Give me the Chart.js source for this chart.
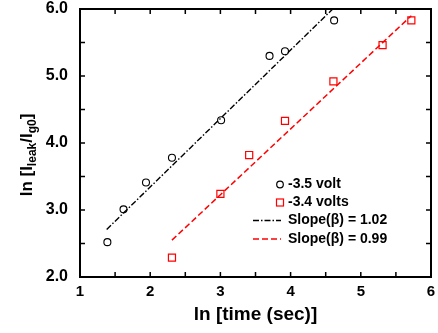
<!DOCTYPE html>
<html>
<head>
<meta charset="utf-8">
<script src="https://cdn.jsdelivr.net/npm/chart.js@4/dist/chart.umd.min.js"></script>
<style>
  html, body { margin: 0; padding: 0; background: #fff; }
  #wrap { width: 438px; height: 333px; }
</style>
</head>
<body>
<div id="wrap"><canvas id="plot"></canvas></div>
<script>
// measured points, ln(time) vs ln(Ileak/Ig0)
const lnTime35 = [1.39, 1.62, 1.94, 2.31, 3.01, 3.70, 3.92, 4.62];
const lnLeak35 = [2.52, 3.01, 3.41, 3.78, 4.34, 5.30, 5.37, 5.83];
const lnTime34 = [2.31, 3.00, 3.41, 3.92, 4.61, 5.31, 5.72];
const lnLeak34 = [2.29, 3.24, 3.82, 4.33, 4.92, 5.46, 5.83];

// linear fits (end points of the drawn segments)
const fitX35 = [1.38, 4.60];
const fitY35 = [2.71, 6.00];
const fitX34 = [2.31, 5.72];
const fitY34 = [2.55, 5.90];

const xTicks = [1, 2, 3, 4, 5, 6];
const yTicks = [2, 3, 4, 5, 6];

const legendItems = [
  { kind: 'circle', color: '#000', text: '-3.5 volt' },
  { kind: 'rect', color: '#ff0000', text: '-3.4 volts' },
  { kind: 'line', color: '#000', dash: [6, 2, 1.5, 2], text: 'Slope(\u03b2) = 1.02' },
  { kind: 'line', color: '#ff0000', dash: [6, 3], text: 'Slope(\u03b2) = 0.99' }
];

const FONT = "'Liberation Sans', Arial, Helvetica, sans-serif";

function pairs(xs, ys) {
  return xs.map((x, i) => ({ x: x, y: ys[i] }));
}

// plot box and inward tick marks on all four sides
const boxPlugin = {
  id: 'box',
  beforeDatasetsDraw(chart) {
    const c = chart.ctx;
    const a = chart.chartArea;
    const xs = chart.scales.x;
    const ys = chart.scales.y;
    c.save();
    c.setLineDash([]);
    c.strokeStyle = '#000';
    c.lineWidth = 1.5;
    c.beginPath();
    for (let v = 1.5; v < 6; v += 0.5) {
      const px = xs.getPixelForValue(v);
      c.moveTo(px, a.bottom); c.lineTo(px, a.bottom - 5);
      c.moveTo(px, a.top); c.lineTo(px, a.top + 5);
    }
    for (let v = 2.5; v < 6; v += 0.5) {
      const py = ys.getPixelForValue(v);
      c.moveTo(a.left, py); c.lineTo(a.left + 5, py);
      c.moveTo(a.right, py); c.lineTo(a.right - 5, py);
    }
    c.stroke();
    c.lineWidth = 2;
    c.strokeRect(a.left, a.top, a.right - a.left, a.bottom - a.top);
    c.restore();
  }
};

// axis titles and legend
const labelsPlugin = {
  id: 'labels',
  afterDraw(chart) {
    const c = chart.ctx;
    const a = chart.chartArea;
    c.save();
    c.fillStyle = '#000';

    c.font = 'bold 19px ' + FONT;
    c.textAlign = 'center';
    c.textBaseline = 'middle';
    c.fillText('ln [time (sec)]', (a.left + a.right) / 2, 315);

    // y title with subscripts
    const parts = [
      { t: 'ln [I', sub: false },
      { t: 'leak', sub: true },
      { t: '/I', sub: false },
      { t: 'g0', sub: true },
      { t: ']', sub: false }
    ];
    let total = 0;
    parts.forEach(p => {
      c.font = 'bold ' + (p.sub ? 12 : 17) + 'px ' + FONT;
      p.w = c.measureText(p.t).width;
      total += p.w;
    });
    c.translate(32, 155);
    c.rotate(-Math.PI / 2);
    c.textAlign = 'left';
    c.textBaseline = 'alphabetic';
    let cx = -total / 2;
    parts.forEach(p => {
      c.font = 'bold ' + (p.sub ? 12 : 17) + 'px ' + FONT;
      c.fillText(p.t, cx, p.sub ? 4 : 0);
      cx += p.w;
    });
    c.setTransform(1, 0, 0, 1, 0, 0);

    c.font = 'bold 14px ' + FONT;
    c.textBaseline = 'middle';
    const rowY = [184.5, 202.5, 220.5, 239];
    legendItems.forEach((it, i) => {
      const y = rowY[i];
      c.strokeStyle = it.color;
      c.setLineDash([]);
      if (it.kind === 'circle') {
        c.lineWidth = 1.2;
        c.beginPath();
        c.arc(280, y, 3.3, 0, Math.PI * 2);
        c.stroke();
      } else if (it.kind === 'rect') {
        c.lineWidth = 1.2;
        c.strokeRect(276.5, y - 3.5, 7, 7);
      } else {
        c.lineWidth = 1.5;
        c.setLineDash(it.dash);
        c.beginPath();
        c.moveTo(253, y); c.lineTo(281, y);
        c.stroke();
        c.setLineDash([]);
      }
      c.fillStyle = '#000';
      c.fillText(it.text, 288, y);
    });
    c.restore();
  }
};

const chartCtx = document.getElementById('plot').getContext('2d');
new Chart(chartCtx, {
  type: 'scatter',
  data: {
    datasets: [
      {
        label: 'fit -3.5',
        data: pairs(fitX35, fitY35),
        showLine: true,
        borderColor: '#000',
        borderWidth: 1.4,
        borderDash: [6, 2, 1.5, 2],
        pointRadius: 0
      },
      {
        label: 'fit -3.4',
        data: pairs(fitX34, fitY34),
        showLine: true,
        borderColor: '#ff0000',
        borderWidth: 1.5,
        borderDash: [6, 3],
        pointRadius: 0
      },
      {
        label: '-3.5 volt',
        data: pairs(lnTime35, lnLeak35),
        pointStyle: 'circle',
        pointRadius: 3.5,
        borderColor: '#000',
        backgroundColor: 'rgba(0,0,0,0)',
        borderWidth: 1.1
      },
      {
        label: '-3.4 volts',
        data: pairs(lnTime34, lnLeak34),
        pointStyle: 'rect',
        pointRadius: 5,
        borderColor: '#ff0000',
        backgroundColor: 'rgba(0,0,0,0)',
        borderWidth: 1.2
      }
    ]
  },
  options: {
    responsive: true,
    maintainAspectRatio: false,
    animation: false,
    layout: { padding: { top: 9, right: 7, left: 0, bottom: 0 } },
    plugins: {
      legend: { display: false },
      tooltip: { enabled: false }
    },
    scales: {
      x: {
        type: 'linear',
        position: 'bottom',
        min: 1,
        max: 6,
        afterFit(scale) {
          scale.height = 56;
          scale.paddingLeft = 0;
          scale.paddingRight = 0;
        },
        afterBuildTicks(scale) { scale.ticks = xTicks.map(v => ({ value: v })); },
        grid: { display: false, drawTicks: false },
        border: { display: false },
        ticks: {
          padding: 6,
          color: '#000',
          font: { family: FONT, size: 15, weight: 'bold' },
          callback: v => String(v)
        }
      },
      y: {
        type: 'linear',
        position: 'left',
        min: 2,
        max: 6,
        afterFit(scale) {
          scale.width = 80;
          scale.paddingTop = 0;
          scale.paddingBottom = 0;
        },
        afterBuildTicks(scale) { scale.ticks = yTicks.map(v => ({ value: v })); },
        grid: { display: false, drawTicks: false },
        border: { display: false },
        ticks: {
          padding: 12,
          color: '#000',
          font: { family: FONT, size: 16, weight: 'bold' },
          callback: v => Number(v).toFixed(1)
        }
      }
    }
  },
  plugins: [boxPlugin, labelsPlugin]
});
</script>
</body>
</html>
